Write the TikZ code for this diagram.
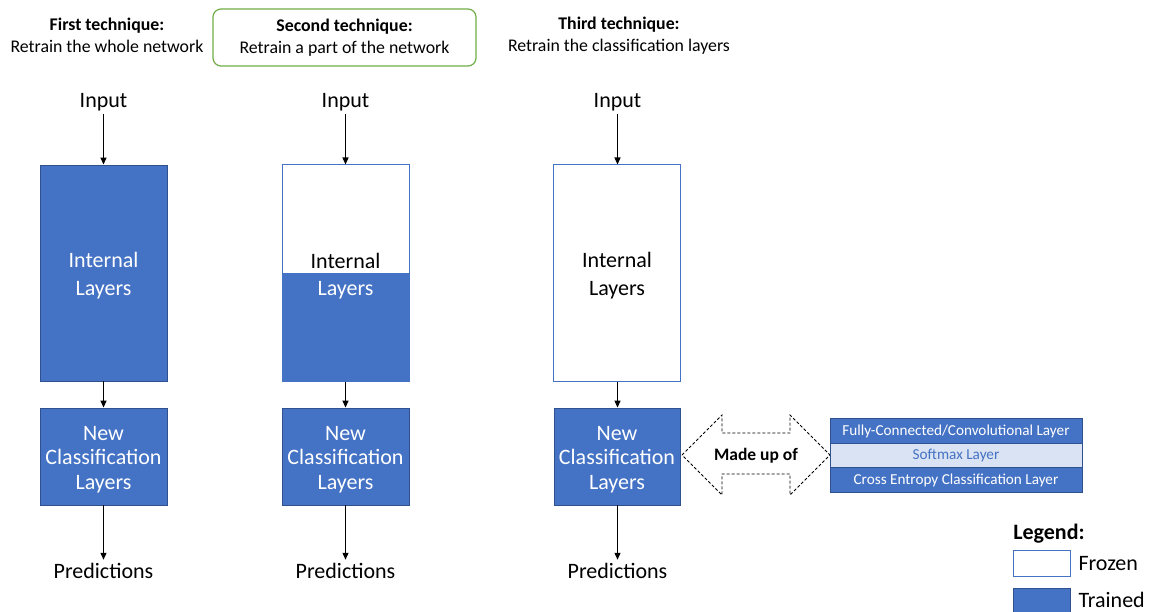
\documentclass[tikz,border=0pt]{standalone}
\usepackage{fontspec}
\setmainfont{Carlito}
\usetikzlibrary{arrows.meta}
\definecolor{blu}{HTML}{4472C4}
\definecolor{dblu}{HTML}{2F528F}
\definecolor{lblu}{HTML}{DAE3F3}
\definecolor{grn}{HTML}{70AD47}
\begin{document}
\begin{tikzpicture}[x=1pt,y=-1pt,
  trained/.style={draw=dblu, fill=blu, line width=0.9pt, minimum width=127pt, text=white, inner sep=0pt},
  frozen/.style={draw=blu, fill=white, line width=1pt, minimum width=127pt, inner sep=0pt},
  big/.style={font=\fontsize{22}{27}\selectfont},
  cls/.style={trained, minimum height=97pt, align=center, font=\fontsize{22}{24.5}\selectfont},
  hdr/.style={align=center, font=\fontsize{17.8}{22.5}\selectfont},
  arr/.style={-{Triangle[length=7pt,width=6pt]}, line width=1.3pt},
  lay/.style={draw=dblu, line width=0.9pt, minimum width=252pt, inner sep=0pt, text depth=1pt, font=\fontsize{15.2}{17}\selectfont}
]
\useasboundingbox (0,0) rectangle (1162,612);

% headers
\node[hdr] (h1) at (107,35.5) {\textbf{First technique:}\\Retrain the whole network};
\node[hdr, draw=grn, line width=1.2pt, rounded corners=8pt, minimum width=263pt, minimum height=57pt] (h2) at (344.5,37.5) {\textbf{Second technique:}\\Retrain a part of the network};
\node[hdr] (h3) at (619,35.5) {\textbf{Third technique:}\\Retrain the classification layers};

% column 1
\node[big] (in1) at (103.5,102) {Input};
\node[trained, minimum height=216pt] (int1) at (103.5,273) {};
\node[big, text=white, align=center, font=\fontsize{22}{28}\selectfont] (t1) at (103.5,276) {Internal\\Layers};
\node[cls] (cl1) at (103.5,456.5) {};
\node[text=white, align=center, font=\fontsize{22}{24.5}\selectfont] (c1) at (103.5,459.5) {New\\Classification\\Layers};
\node[big] (pr1) at (103.5,571) {Predictions};
\draw[arr] (in1) -- (int1);
\draw[arr] (int1) -- (cl1);
\draw[arr] (cl1.south) -- (pr1.north);

% column 2
\fill[blu] (282,273) rectangle (409,381);
\node[draw=blu, line width=1pt, minimum width=127pt, minimum height=216pt, inner sep=0pt] (int2) at (345.5,273) {};
\node[big, text=black] (t2a) at (345.5,261) {Internal};
\node[big, text=white] (t2b) at (345.5,290) {Layers};
\node[big] (in2) at (345.5,102) {Input};
\node[cls] (cl2) at (345.5,456.5) {};
\node[text=white, align=center, font=\fontsize{22}{24.5}\selectfont] (c2) at (345.5,459.5) {New\\Classification\\Layers};
\node[big] (pr2) at (345.5,571) {Predictions};
\draw[arr] (in2) -- (int2);
\draw[arr] (int2) -- (cl2);
\draw[arr] (cl2.south) -- (pr2.north);

% column 3
\node[big] (in3) at (617.5,102) {Input};
\node[frozen, minimum height=216pt] (int3) at (617,273) {};
\node[big, align=center, font=\fontsize{22}{28}\selectfont] (t3) at (617,276) {Internal\\Layers};
\node[cls, minimum width=126pt] (cl3) at (617,456.5) {};
\node[text=white, align=center, font=\fontsize{22}{24.5}\selectfont] (c3) at (617,459.5) {New\\Classification\\Layers};
\node[big] (pr3) at (617.5,571) {Predictions};
\draw[arr] (in3) -- (in3 |- int3.north);
\draw[arr] (in3 |- int3.south) -- (in3 |- cl3.north);
\draw[arr] (in3 |- cl3.south) -- (pr3.north);

% double arrow
\draw[dashed, line width=0.8pt, dash pattern=on 3pt off 2pt]
  (682,455) -- (722,415) -- (722,433) -- (790,433) -- (790,415) -- (830,455)
  -- (790,495) -- (790,474) -- (722,474) -- (722,495) -- cycle;
\node[font=\bfseries\fontsize{17.5}{20}\selectfont] (made) at (756,456) {Made up of};

% layer stack
\node[lay, fill=blu, text=white, minimum height=25pt] (l1) at (956,430.5) {Fully-Connected/Convolutional Layer};
\node[lay, fill=lblu, text=blu, minimum height=24pt] (l2) at (956,455) {Softmax Layer};
\node[lay, fill=blu, text=white, minimum height=25pt] (l3) at (956,479.5) {Cross Entropy Classification Layer};

% legend
\node[font=\bfseries\fontsize{22}{26}\selectfont] (leg) at (1049,534) {Legend:};
\node[draw=blu, fill=white, line width=1pt, minimum width=57pt, minimum height=26pt, inner sep=0pt] (fz) at (1041.5,563) {};
\node[big, anchor=west] (fzt) at (1075,564) {Frozen};
\node[draw=dblu, fill=blu, line width=0.9pt, minimum width=57pt, minimum height=26pt, inner sep=0pt] (tr) at (1041.5,601) {};
\node[big, anchor=west] (trt) at (1075,599.5) {Trained};
\end{tikzpicture}
\end{document}
